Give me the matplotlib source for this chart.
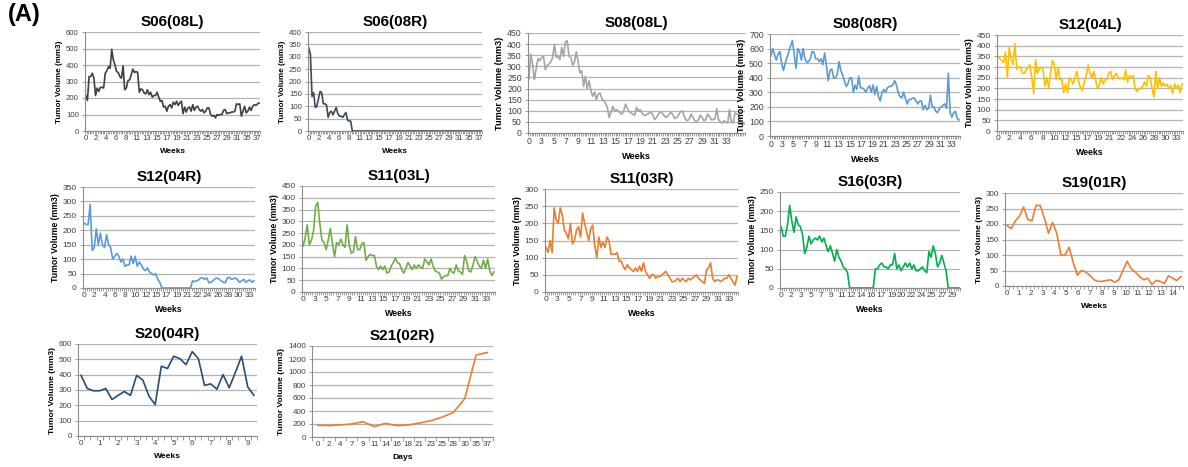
import numpy as np
import matplotlib
matplotlib.use("Agg")
import matplotlib.pyplot as plt

plt.rcParams['font.family'] = ['Liberation Sans', 'DejaVu Sans']

# ---- data ----
s06_08l = [215, 185, 330, 330, 350, 320, 215, 260, 240, 265,
           265, 260, 350, 365, 390, 380, 495, 430, 400, 360,
           355, 330, 320, 395, 250, 260, 305, 310, 340, 375,
           355, 360, 355, 235, 255, 250, 230, 225, 250, 220,
           235, 205, 215, 215, 235, 205, 180, 185, 145, 150,
           120, 150, 160, 140, 175, 160, 180, 155, 170, 180,
           105, 145, 115, 140, 145, 120, 160, 125, 145, 150,
           130, 120, 130, 110, 120, 140, 140, 100, 90, 95,
           80, 100, 95, 100, 100, 125, 130, 105, 110, 110,
           115, 115, 120, 165, 160, 165, 90, 120, 150, 110,
           120, 145, 125, 150, 160, 155, 165, 170]
s06_08r = [335, 310, 140, 155, 95, 100, 130, 160, 155, 110,
           110, 105, 55, 75, 80, 65, 80, 95, 70, 60,
           60, 55, 65, 75, 45, 40, 40,
           0, 0, 0, 0, 0, 0, 0, 0, 0, 0, 0, 0, 0, 0, 0, 0, 0, 0, 0, 0, 0,
           0, 0, 0, 0, 0, 0, 0, 0, 0, 0, 0, 0, 0, 0, 0, 0, 0, 0, 0, 0, 0,
           0, 0, 0, 0, 0, 0, 0, 0, 0, 0, 0, 0, 0, 0, 0, 0, 0, 0, 0, 0, 0,
           0, 0, 0, 0, 0, 0, 0, 0, 0, 0, 0, 0, 0, 0, 0, 0, 0, 0]
s08_08l = [245, 355, 310, 240, 290, 335, 325, 340, 345, 285,
           305, 310, 320, 340, 400, 340, 345, 330, 385, 345,
           410, 415, 345, 340, 305, 320, 365, 320, 270, 280,
           210, 255, 200, 235, 190, 165, 185, 150, 175, 180,
           155, 145, 135, 115,
           70, 95, 120, 100, 105, 100, 90, 85, 100, 130,
           110, 95, 90, 85, 80, 115, 100, 105, 90, 80,
           80, 85, 90, 95, 80, 60, 70, 85, 95, 90,
           80, 70, 75, 85, 95, 80, 65, 70, 80, 95,
           100, 80, 60, 55, 65, 85, 70, 55, 50, 60,
           80, 70, 55, 60, 85, 75, 60, 60, 65, 110,
           60, 50, 45, 55, 50, 45, 105, 50, 45, 90,
           85, 85, 55, 45, 40]
s08_08r = [550, 600, 560, 520, 560, 580, 500, 450, 500, 540,
           580, 620, 655, 560, 465, 600, 580, 520, 600, 530,
           505, 510, 530, 580, 575, 530, 530, 510, 530, 490,
           570, 480, 380, 450, 460, 400, 400, 420, 510, 450,
           420, 380, 340, 360, 400, 400, 300, 350, 320, 410,
           330, 330, 320, 300, 330, 345, 300, 350, 285, 340,
           270, 240, 300, 320, 300, 330, 340, 340, 350, 380,
           350, 300, 270, 260, 300, 260, 220, 250, 250, 260,
           260, 240, 220, 240, 240, 180, 210, 180, 190, 280,
           200, 200, 170, 160, 190, 200, 210, 220, 190, 430,
           160, 130, 160, 170, 120, 110]
s12_04l = [350, 340, 330, 320, 370, 250, 390, 340, 310, 410,
           290, 300, 300, 270, 270, 285, 300, 310, 250, 175,
           335, 270, 290, 300, 290, 210, 250, 200, 270, 330,
           310, 240, 300, 240, 240, 180, 220, 180, 250, 240,
           220, 250, 280, 230, 200, 190, 230, 260, 310, 270,
           250, 280, 240, 200, 220, 250, 220, 240, 240, 270,
           280, 240, 260, 270, 250, 245, 250, 240, 285, 230,
           260, 250, 260, 200, 185, 200, 195, 210, 230, 210,
           260, 250, 200, 160, 280, 200, 250, 210, 225, 210,
           220, 200, 215, 175, 220, 200, 215, 180, 220]
s12_04r = [225, 220, 220, 290, 130, 140, 205, 150, 190, 150,
           140, 185, 150, 140, 100, 110, 120, 110, 90, 100,
           75, 80, 80, 110, 85, 110, 75, 90, 80, 65,
           60, 70, 55, 50, 45, 50, 30, 20, 0,
           0, 0, 0, 0, 0, 0, 0, 0, 0, 0, 0, 0, 0, 0,
           25, 22, 25, 28, 35, 35, 30, 35, 18, 20,
           25, 32, 35, 30, 25, 20, 18, 35, 37, 30,
           32, 35, 28, 20, 25, 30, 20, 25, 28, 20, 25]
s11_03l = [195, 230, 285, 200, 220, 260, 365, 380, 290, 220,
           210, 180, 220, 270, 205, 150, 210, 200, 225, 200,
           190, 285, 200, 165, 170, 235, 180, 180, 205, 210,
           135, 150, 160, 155, 155, 110, 95, 110, 95, 110,
           80, 85, 110, 125, 145, 125, 120, 95, 80, 100,
           125, 110, 95, 115, 100, 115, 105, 100, 140, 130,
           115, 140, 110, 90, 85, 80, 55, 65, 70, 70,
           100, 85, 80, 115, 90, 85, 75, 155, 130, 90,
           85, 115, 150, 130, 110, 100, 135, 100, 140, 90,
           70, 85]
s11_03r = [130, 115, 150, 115, 245, 210, 200, 245, 225, 180,
           170, 155, 200, 140, 150, 180, 190, 160, 230, 200,
           175, 150, 185, 195, 135, 100, 160, 130, 145, 130,
           160, 150, 110, 110, 110, 115, 90, 90, 75, 65,
           80, 70, 65, 60, 70, 60, 75, 60, 85, 60,
           50, 40, 50, 50, 40, 45, 45, 50, 55, 60,
           50, 40, 30, 30, 35, 40, 30, 40, 35, 30,
           40, 35, 40, 45, 50, 40, 35, 30, 25, 65,
           70, 85, 40, 30, 35, 35, 30, 35, 40, 40,
           50, 40, 30, 20, 45]
s16_03r = [160, 135, 135, 165, 215, 175, 145, 185, 165, 160,
           140, 90, 105, 135, 115, 125, 130, 125, 135, 120,
           130, 110, 95, 110, 90, 70, 100, 80, 70, 55,
           50, 40, 0,
           0, 0, 0, 0, 0, 0, 0, 0, 0, 0, 0,
           50, 50, 60, 65, 55, 55, 50, 60, 60, 90,
           50, 60, 45, 55, 65, 55, 65, 50, 60, 45,
           45, 50, 55, 45, 40, 95, 80, 110, 90, 55,
           65, 85, 65, 45, 0,
           0, 0, 0, 0, 0]
s19_01r = [195, 185, 210, 225, 255, 215, 210, 260, 260, 220,
           170, 205, 170, 100, 100, 125, 75, 35, 50, 45,
           35, 20, 15, 15, 18, 20, 12, 20, 50, 80,
           55, 45, 30, 20, 25, 5, 18, 15, 8, 33,
           25, 18, 30]
s20_04r = [395, 310, 295, 295, 310, 238, 265, 290, 265, 395,
           365, 260, 205, 455, 440, 520, 505, 465, 550, 505,
           330, 340, 305, 400, 315, 415, 520, 320, 265]
s21_02r = [180, 175, 185, 200, 235, 160, 210, 175, 185, 215,
           250, 305, 380, 590, 1260, 1300]

lab_a = ['0', '2', '4', '6', '8', '11', '13', '15', '17', '19', '21', '23',
         '25', '27', '29', '31', '35', '37']
lab_b = ['0', '3', '5', '7', '9', '11', '13', '15', '17', '19', '21', '23',
         '25', '27', '29', '31', '33']
lab_c = ['0', '2', '4', '6', '8', '10', '12', '15', '17', '19', '21', '22',
         '24', '26', '28', '30', '33']
lab_s16 = ['0', '2', '3', '5', '7', '9', '11', '12', '14', '16', '17', '19',
           '20', '22', '24', '25', '27', '29']
lab_s19 = [str(i) for i in range(15)]
lab_s20 = [str(i) for i in range(10)]
lab_s21 = ['0', '2', '4', '7', '9', '11', '14', '16', '18', '21', '23', '25',
           '28', '30', '35', '37']

W, H = 1188, 467
fig = plt.figure(figsize=(W / 100, H / 100), dpi=100)


def panel(box, title, vals, labels, ymax, ystep, color, frac, fs, xlab='Weeks', tl=2.2):
    l, t, r, b = box
    ax = fig.add_axes([l / W, 1 - b / H, (r - l) / W, (b - t) / H])
    n = len(vals)
    x = np.arange(n)
    ax.plot(x, vals, color=color, lw=1.2)
    ax.set_xlim(-0.5, n - 0.5)
    ax.set_ylim(0, ymax)
    ax.set_yticks(np.arange(0, ymax + 1, ystep))
    ax.set_xticks(np.linspace(0, frac * (n - 1), len(labels)))
    ax.set_xticklabels(labels)
    ax.set_xticks(np.arange(n + 1) - 0.5, minor=True)
    ax.tick_params(axis='x', which='major', length=0, pad=3, labelsize=fs, labelcolor='#404040')
    ax.tick_params(axis='x', which='minor', length=tl, width=0.6, color='#8c8c8c')
    ax.tick_params(axis='y', length=2.5, width=0.6, color='#8c8c8c', pad=2,
                   labelsize=fs, labelcolor='#404040')
    ax.grid(axis='y', color='#b3b3b3', lw=0.9)
    ax.set_axisbelow(True)
    for s in ['top', 'right']:
        ax.spines[s].set_visible(False)
    for s in ['left', 'bottom']:
        ax.spines[s].set_color('#8c8c8c')
        ax.spines[s].set_linewidth(0.8)
    ax.set_title(title, fontsize=11, fontweight='bold', pad=4)
    ax.set_ylabel('Tumor Volume (mm3)', fontsize=fs + 0.3, fontweight='bold', labelpad=2)
    ax.set_xlabel(xlab, fontsize=fs + 0.3, fontweight='bold', labelpad=4)
    return ax


panel((85, 32, 260, 131), 'S06(08L)', s06_08l, lab_a, 600, 100, '#404040', 0.99, 5.6)
panel((308, 32, 482, 131), 'S06(08R)', s06_08r, lab_a, 400, 50, '#3b4a5a', 0.99, 5.6)
panel((528, 33, 745, 133), 'S08(08L)', s08_08l, lab_b, 450, 50, '#a5a5a5', 0.92, 6.3)
panel((770, 34, 960, 136), 'S08(08R)', s08_08r, lab_b, 700, 100, '#5b9bd5', 0.96, 6.3)
panel((997, 35, 1183, 131), 'S12(04L)', s12_04l, lab_c, 450, 50, '#ffc000', 0.97, 6.0)

panel((83, 187, 255, 288), 'S12(04R)', s12_04r, lab_c, 350, 50, '#5b9bd5', 0.97, 6.0)
panel((302, 186, 495, 292), 'S11(03L)', s11_03l, lab_b, 450, 50, '#70ad47', 0.96, 6.0)
panel((545, 189, 738, 292), 'S11(03R)', s11_03r, lab_b, 300, 50, '#ed7d31', 0.96, 6.0)
panel((780, 192, 960, 288), 'S16(03R)', s16_03r, lab_s16, 250, 50, '#00b050', 0.96, 6.0)
panel((1005, 193, 1183, 286), 'S19(01R)', s19_01r, lab_s19, 300, 50, '#ed7d31', 0.955, 5.8)

panel((78, 344, 257, 436), 'S20(04R)', s20_04r, lab_s20, 600, 100, '#264d73', 27 / 28, 5.8, tl=3)
panel((312, 346, 493, 437), 'S21(02R)', s21_02r, lab_s21, 1400, 200, '#ed7d31', 1.0, 5.8, xlab='Days', tl=3)

fig.text(8 / W, 1 - 3 / H, '(A)', fontsize=17, fontweight='bold', va='top', ha='left')

fig.savefig('out.png', dpi=100)
